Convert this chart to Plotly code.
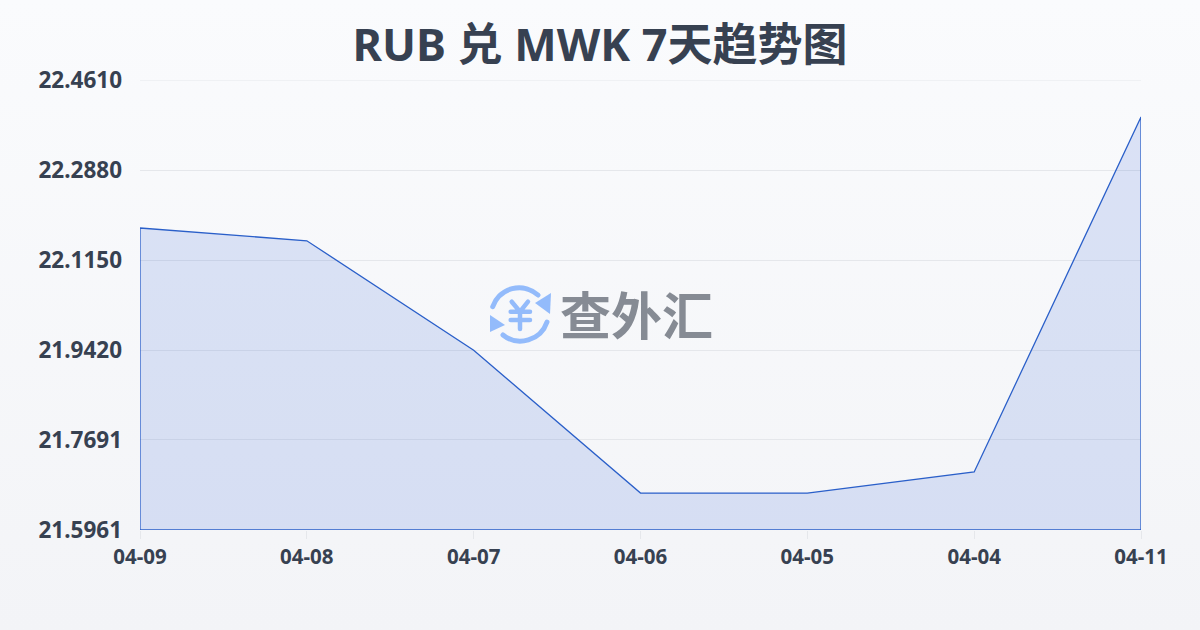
import base64
import plotly.graph_objects as go

dates = ['04-09', '04-08', '04-07', '04-06', '04-05', '04-04', '04-11']
rates = [22.1765, 22.152, 21.9415, 21.667, 21.667, 21.7076, 22.39]
y_ticks = [21.5961, 21.7691, 21.9420, 22.1150, 22.2880, 22.4610]
y_labels = ['21.5961', '21.7691', '21.9420', '22.1150', '22.2880', '22.4610']
title_text = 'RUB 兑 MWK 7天趋势图'
watermark = '查外汇'

FONT = 'Noto Sans, Noto Sans CJK SC, sans-serif'
DARK = '#374151'
GRID = '#e5e7eb'

def data_uri(svg):
    return 'data:image/svg+xml;base64,' + base64.b64encode(svg.encode('utf-8')).decode()

# page background, top to bottom gradient
bg_svg = '''<svg xmlns="http://www.w3.org/2000/svg" width="1200" height="630" preserveAspectRatio="none">
<defs><linearGradient id="g" x1="0" y1="0" x2="0" y2="1">
<stop offset="0" stop-color="#fafbfd"/><stop offset="1" stop-color="#f3f4f7"/>
</linearGradient></defs>
<rect width="1200" height="630" fill="url(#g)"/></svg>'''

# round arrows and yen sign of the logo
icon_svg = '''<svg xmlns="http://www.w3.org/2000/svg" width="64" height="64" viewBox="0 0 64 64">
<g fill="none" stroke="#93bbfb" stroke-width="5" stroke-linecap="round">
<path d="M4.7 22.7 A28 28 0 0 1 50 11"/>
<path d="M59 38 A28 28 0 0 1 15 51"/>
<path d="M23.7 17.7 L32 27.7 L40 17.7 M32 27.7 V45 M22.7 27.7 H42 M22.7 36 H42" stroke-width="4.5"/>
</g>
<path d="M63 9 L62 30 L47 19 Z" fill="#93bbfb"/>
<path d="M2 31 L2 48 L17 41 Z" fill="#93bbfb"/>
</svg>'''

fig = go.Figure()

# closed outline: down the last date, along the bottom, back up the first
fig.add_trace(go.Scatter(
    x=dates + [dates[-1], dates[0], dates[0]],
    y=rates + [y_ticks[0], y_ticks[0], rates[0]],
    mode='lines',
    fill='toself',
    fillcolor='rgba(37,88,214,0.14)',
    line=dict(color='#2a5fc9', width=1.3),
    hoverinfo='skip',
    showlegend=False,
    cliponaxis=False,
))

fig.update_layout(
    width=1200,
    height=630,
    margin=dict(l=140, r=59, t=80, b=100),
    paper_bgcolor='rgba(0,0,0,0)',
    plot_bgcolor='rgba(0,0,0,0)',
    font=dict(family=FONT, color=DARK),
    title=dict(
        text='<b>' + title_text + '</b>',
        x=600 / 1200,
        xanchor='center',
        y=1 - 45 / 630,
        yanchor='middle',
        font=dict(size=45, color=DARK, family=FONT),
    ),
    images=[
        dict(source=data_uri(bg_svg), xref='paper', yref='paper',
             x=-140 / 1001, y=1 + 80 / 450, sizex=1200 / 1001, sizey=630 / 450,
             xanchor='left', yanchor='top', sizing='stretch', layer='below'),
        dict(source=data_uri(icon_svg), xref='paper', yref='paper',
             x=(488 - 140) / 1001, y=1 - (284 - 80) / 450, sizex=64 / 1001, sizey=64 / 450,
             xanchor='left', yanchor='top', sizing='stretch', layer='above'),
    ],
    annotations=[dict(
        text='<b>' + watermark + '</b>',
        xref='paper', yref='paper',
        x=(636 - 140) / 1001, y=1 - (315 - 80) / 450,
        xanchor='center', yanchor='middle',
        showarrow=False,
        font=dict(size=51, color='#868b94', family=FONT),
    )],
    # plotly leaves out the gridline on the axis end, so draw the top one
    shapes=[dict(type='line', xref='paper', yref='y', x0=0, x1=1,
                 y0=y_ticks[-1], y1=y_ticks[-1], line=dict(color=GRID, width=1), layer='below')],
)

fig.update_xaxes(
    type='category',
    categoryorder='array',
    categoryarray=dates,
    range=[0, len(dates) - 1],
    showgrid=False,
    showline=False,
    zeroline=False,
    ticks='outside',
    ticklen=8,
    tickwidth=1,
    tickcolor=GRID,
    tickfont=dict(size=20.5, color=DARK, family=FONT, weight='bold'),
)
fig.update_yaxes(
    range=[y_ticks[0], y_ticks[-1]],
    tickmode='array',
    tickvals=y_ticks,
    ticktext=y_labels,
    showgrid=True,
    gridcolor=GRID,
    gridwidth=1,
    showline=False,
    zeroline=False,
    ticks='',
    ticklabelstandoff=17,
    tickfont=dict(size=22.5, color=DARK, family=FONT, weight='bold'),
)

fig.write_html('out.html', config={'displayModeBar': False}, post_script="document.body.style.margin='0';")
